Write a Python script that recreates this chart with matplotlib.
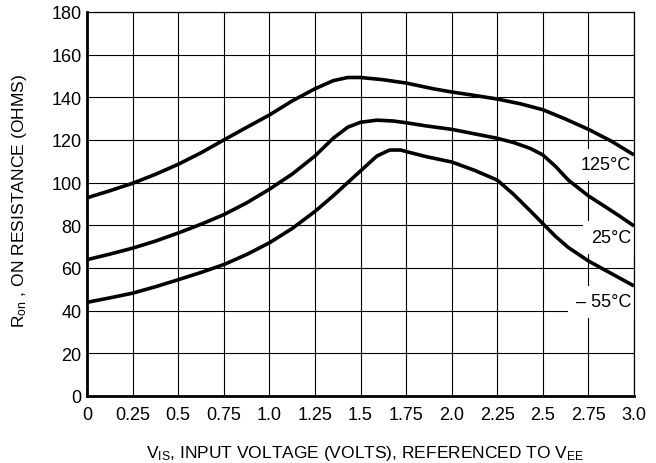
"""On-resistance vs input voltage, three temperatures (datasheet style)."""
import matplotlib
matplotlib.use("Agg")
import matplotlib.pyplot as plt

plt.rcParams["font.family"] = ["Liberation Sans Narrow", "Liberation Sans", "DejaVu Sans"]
plt.rcParams["mathtext.default"] = "regular"

# ---------------------------------------------------------------------------
# data (x in volts, R in ohms)
# ---------------------------------------------------------------------------
v_125 = [0, 0.125, 0.25, 0.375, 0.5, 0.625, 0.75, 0.875, 1.0, 1.125, 1.25, 1.35,
         1.43, 1.5, 1.62, 1.75, 1.9, 2.0, 2.125, 2.25, 2.375, 2.5, 2.625, 2.75,
         2.875, 3.0]
r_125 = [92.9, 96.2, 99.7, 103.9, 108.6, 114.0, 120.0, 125.9, 131.7, 138.3, 144.0, 147.8,
         149.3, 149.3, 148.3, 146.7, 144.0, 142.5, 140.9, 139.2, 137.0, 134.2, 129.8, 125.0,
         119.5, 113.0]

v_25 = [0, 0.125, 0.25, 0.375, 0.5, 0.625, 0.75, 0.875, 1.0, 1.125, 1.25, 1.35,
        1.43, 1.5, 1.59, 1.68, 1.75, 1.86, 2.0, 2.125, 2.25, 2.34, 2.43, 2.5,
        2.57, 2.64, 2.75, 2.85, 2.92, 3.0]
r_25 = [63.9, 66.5, 69.3, 72.6, 76.4, 80.5, 85.0, 90.5, 96.9, 104.0, 112.5, 120.8,
        126.0, 128.3, 129.3, 128.9, 128.1, 126.6, 125.0, 122.9, 120.8, 118.8, 116.1, 113.0,
        107.6, 101.2, 93.8, 88.3, 84.4, 79.7]

v_m55 = [0, 0.125, 0.25, 0.375, 0.5, 0.625, 0.75, 0.875, 1.0, 1.125, 1.25, 1.35,
         1.5, 1.59, 1.66, 1.72, 1.75, 1.86, 2.0, 2.125, 2.25, 2.34, 2.43, 2.5,
         2.57, 2.64, 2.75, 2.85, 3.0]
r_m55 = [43.9, 46.0, 48.2, 51.2, 54.5, 57.9, 61.6, 66.3, 71.8, 78.5, 86.5, 93.8,
         105.5, 112.5, 115.3, 115.3, 114.6, 112.2, 109.7, 105.8, 101.2, 94.5, 86.9, 80.8,
         74.8, 69.6, 63.3, 58.6, 51.6]

x_ticks = [0, 0.25, 0.5, 0.75, 1.0, 1.25, 1.5, 1.75, 2.0, 2.25, 2.5, 2.75, 3.0]
x_labels = ["0", "0.25", "0.5", "0.75", "1.0", "1.25", "1.5", "1.75", "2.0",
            "2.25", "2.5", "2.75", "3.0"]
y_ticks = [0, 20, 40, 60, 80, 100, 120, 140, 160, 180]

# curve labels: (text, x, y)
curve_labels = [("125°C", 2.985, 108.3), ("25°C", 2.985, 74.3), ("– 55°C", 2.985, 44.2)]

fig = plt.figure(figsize=(6.56, 4.64), dpi=100)
ax = fig.add_axes([87 / 656, 67 / 464, 547 / 656, 384 / 464])

for xs, ys in [(v_125, r_125), (v_25, r_25), (v_m55, r_m55)]:
    ax.plot(xs, ys, color="black", lw=2.6, solid_capstyle="butt",
            solid_joinstyle="round", zorder=3)

# white box under each label breaks the grid, spines stay on top
for text, x, y in curve_labels:
    ax.text(x, y, text, ha="right", va="center", fontsize=13, zorder=2,
            bbox=dict(facecolor="white", edgecolor="none", pad=5.5))

ax.set_xlim(0, 3.0)
ax.set_ylim(0, 180)
ax.set_xticks(x_ticks)
ax.set_xticklabels(x_labels)
ax.set_yticks(y_ticks)
ax.tick_params(axis="both", length=0, labelsize=13)
ax.tick_params(axis="x", pad=7)
ax.tick_params(axis="y", pad=4)
ax.grid(True, color="black", lw=0.8)
ax.set_axisbelow(True)

for side in ("left", "bottom"):
    ax.spines[side].set_linewidth(2.0)
for side in ("top", "right"):
    ax.spines[side].set_linewidth(0.9)

fig.text(365 / 656, 6 / 464, "V$_{IS}$, INPUT VOLTAGE (VOLTS), REFERENCED TO V$_{EE}$",
         ha="center", va="baseline", fontsize=12.5)
fig.text(20 / 656, 1 - 201 / 464, "R$_{on}$ , ON RESISTANCE (OHMS)",
         ha="center", va="center", rotation=90, fontsize=12.6)

fig.savefig("out.png", dpi=100)
